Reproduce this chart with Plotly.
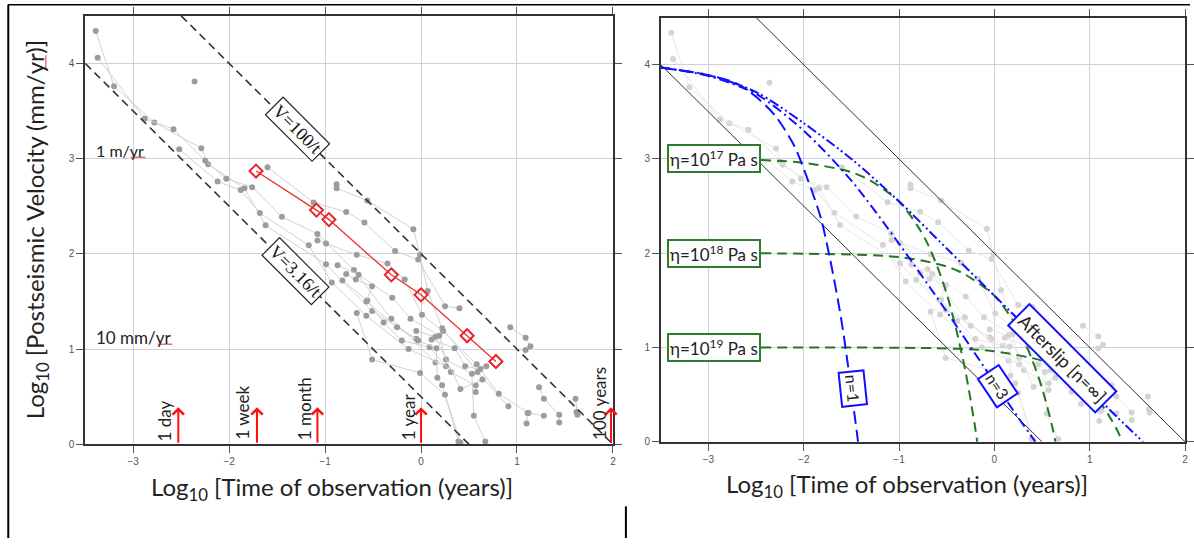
import plotly.graph_objects as go

# ---------------- data (log10 time [yr], log10 velocity [mm/yr]) ----------------
s01_t = [-3.39, -3.20, -2.78, -2.29, -2.22, -1.84, -1.62, -0.99, -0.51, -0.05]
s01_v = [4.34, 3.76, 3.38, 3.11, 2.94, 2.69, 2.30, 1.89, 1.40, 1.11]
s02_t = [-3.37, -2.88, -2.58, -2.25, -2.03, -1.76, -1.45, -1.08, -0.70, -0.31, 0.15]
s02_v = [4.06, 3.42, 3.31, 2.98, 2.79, 2.70, 2.39, 2.21, 1.83, 1.32, 0.86]
s03_t = [-2.52, -2.12, -1.88, -1.68, -1.17, -0.93, -0.57, -0.13, 0.26]
s03_v = [3.10, 2.76, 2.67, 2.43, 2.09, 1.70, 1.35, 1.00, 0.82]
s04_t = [-2.36]
s04_v = [3.81]
s05_t = [-1.60, -1.12, -0.78, -0.59, -0.27, -0.03, 0.25, 0.40]
s05_v = [2.91, 2.54, 2.44, 2.33, 2.03, 1.94, 1.45, 1.43]
s06_t = [-0.88, -0.88, -0.56, -0.08, -0.01, 0.07, 0.22, 0.59, 0.91]
s06_v = [2.73, 2.69, 2.56, 2.26, 1.99, 1.61, 1.22, 0.76, 0.40]
s07_t = [-1.08, -0.99, -0.67, -0.35, -0.17, 0.01, 0.23, 0.58, 0.81, 1.12]
s07_v = [2.14, 2.11, 1.99, 1.90, 1.73, 1.36, 1.19, 0.84, 0.53, 0.33]
s08_t = [-0.87, -0.65, -0.30, -0.11, 0.19, 0.26, 0.53, 0.55, 0.67]
s08_v = [1.88, 1.78, 1.54, 1.32, 1.14, 0.89, 0.74, 0.30, 0.03]
s09_t = [-0.82, -0.56, -0.39, -0.20, 0.09, 0.31, 0.57, 0.57]
s09_v = [1.72, 1.51, 1.28, 1.09, 1.02, 0.76, 0.62, 0.55]
s10_t = [-0.78, -0.68, -0.51, -0.57, -0.25, -0.03, 0.16, 0.17, 0.22, 0.39]
s10_v = [1.79, 1.73, 1.66, 1.50, 1.23, 1.09, 1.01, 0.70, 0.62, 0.03]
s11_t = [-0.67, -0.51, -0.01, 0.25, 0.41]
s11_v = [1.38, 0.89, 0.75, 0.52, 0.02]
s12_t = [0.11, 0.35, 0.46, 0.62, 0.68]
s12_v = [1.10, 1.01, 0.82, 0.79, 0.82]
s13_t = [0.93, 1.09, 1.14, 1.09]
s13_v = [1.23, 1.12, 1.03, 0.99]
s14_t = [1.23, 1.28, 1.44, 1.44]
s14_v = [0.60, 0.48, 0.31, 0.23]
s15_t = [1.10, 1.11, 1.28]
s15_v = [0.22, 0.33, 0.30]
s16_t = [1.61, 1.62, 1.63]
s16_v = [0.48, 0.34, 0.31]
s17_t = [-0.05, 0.15, 0.41, 0.64]
s17_v = [1.19, 1.13, 0.58, 0.68]

red_t = [-1.72, -1.09, -0.96, -0.31, 0.00, 0.48, 0.78]
red_v = [2.87, 2.46, 2.36, 1.78, 1.57, 1.14, 0.87]

# reference lines V = 100/t and V = 3.16/t
v100_t = [-2.5, 2.0]
v100_v = [4.5, 0.0]
v316_t = [-3.5, 0.5]
v316_v = [4.0, 0.0]

# time markers
mark_t = [-2.53, -1.71, -1.08, 0.0, 1.98]
mark_labels = ["1 day", "1 week", "1 month", "1 year", "100 years"]
mark_top = 0.39

# model curves (right panel)
n1_t = [-3.5, -3.0, -2.7, -2.5, -2.3, -2.1, -1.95, -1.82, -1.72, -1.61, -1.54, -1.43]
n1_v = [3.97, 3.89, 3.80, 3.66, 3.46, 3.14, 2.76, 2.37, 1.92, 1.32, 0.84, 0.0]
n3_t = [-3.5, -3.0, -2.5, -2.0, -1.5, -1.0, -0.5, 0.0, 0.2, 0.43]
n3_v = [3.97, 3.88, 3.69, 3.30, 2.77, 2.10, 1.38, 0.63, 0.33, 0.0]
as_t = [-3.5, -3.0, -2.5, -2.0, -1.5, -1.0, -0.5, 0.0, 0.5, 1.0, 1.3, 1.56]
as_v = [3.97, 3.89, 3.71, 3.38, 3.00, 2.55, 2.05, 1.55, 1.05, 0.55, 0.25, 0.0]
g17_t = [-2.45, -2.0, -1.5, -1.3, -1.0, -0.8, -0.7, -0.6, -0.5, -0.4, -0.3, -0.2, -0.18]
g17_v = [2.99, 2.96, 2.86, 2.77, 2.55, 2.28, 2.10, 1.86, 1.57, 1.19, 0.73, 0.14, 0.0]
g18_t = [-2.45, -1.0, -0.5, -0.3, 0.0, 0.2, 0.3, 0.4, 0.5, 0.6, 0.64]
g18_v = [2.0, 1.96, 1.86, 1.77, 1.55, 1.28, 1.10, 0.86, 0.57, 0.19, 0.0]
g19_t = [-2.45, -0.5, 0.0, 0.5, 0.7, 0.8, 0.9, 1.0, 1.1, 1.2, 1.3, 1.34]
g19_v = [1.0, 0.99, 0.96, 0.86, 0.77, 0.71, 0.64, 0.55, 0.43, 0.28, 0.10, 0.0]
visc_levels = [3, 2, 1]
visc_exps = ["17", "18", "19"]

grey_series = [(s01_t, s01_v), (s02_t, s02_v), (s03_t, s03_v), (s04_t, s04_v),
               (s05_t, s05_v), (s06_t, s06_v), (s07_t, s07_v), (s08_t, s08_v),
               (s09_t, s09_v), (s10_t, s10_v), (s11_t, s11_v), (s12_t, s12_v),
               (s13_t, s13_v), (s14_t, s14_v), (s15_t, s15_v), (s16_t, s16_v),
               (s17_t, s17_v)]

TXT = "Lato"
fig = go.Figure()

# ---------------- left panel ----------------
for t, v in grey_series:
    fig.add_trace(go.Scatter(x=t, y=v, mode="lines+markers", xaxis="x", yaxis="y",
                             line=dict(color="#d2d2d2", width=1),
                             marker=dict(color="#9c9c9c", size=6), hoverinfo="skip"))
for t, v in [(v100_t, v100_v), (v316_t, v316_v)]:
    fig.add_trace(go.Scatter(x=t, y=v, mode="lines", xaxis="x", yaxis="y",
                             line=dict(color="#333333", width=1.6, dash="8px,5px")))
fig.add_trace(go.Scatter(x=red_t, y=red_v, mode="lines+markers", xaxis="x", yaxis="y",
                         line=dict(color="#e8342c", width=1.3),
                         marker=dict(symbol="diamond-open", size=10, color="#e8242c",
                                     line=dict(width=2))))

# ---------------- right panel ----------------
for t, v in grey_series:
    fig.add_trace(go.Scatter(x=t, y=v, mode="lines+markers", xaxis="x2", yaxis="y2",
                             line=dict(color="#e8e8e8", width=1),
                             marker=dict(color="#d4d4d4", size=6), hoverinfo="skip"))
for t, v in [(v100_t, v100_v), (v316_t, v316_v)]:
    fig.add_trace(go.Scatter(x=t, y=v, mode="lines", xaxis="x2", yaxis="y2",
                             line=dict(color="#333333", width=1)))
for t, v in [(g17_t, g17_v), (g18_t, g18_v), (g19_t, g19_v)]:
    fig.add_trace(go.Scatter(x=t, y=v, mode="lines", xaxis="x2", yaxis="y2",
                             line=dict(color="#1f7a1f", width=2, dash="10px,6px",
                                       shape="spline", smoothing=0.8)))
fig.add_trace(go.Scatter(x=n1_t, y=n1_v, mode="lines", xaxis="x2", yaxis="y2",
                         line=dict(color="#1010ff", width=2, dash="13px,6px",
                                   shape="spline", smoothing=0.8)))
fig.add_trace(go.Scatter(x=n3_t, y=n3_v, mode="lines", xaxis="x2", yaxis="y2",
                         line=dict(color="#1010ff", width=2, dash="10px,4px,2px,4px",
                                   shape="spline", smoothing=0.8)))
fig.add_trace(go.Scatter(x=as_t, y=as_v, mode="lines", xaxis="x2", yaxis="y2",
                         line=dict(color="#1010ff", width=2, dash="10px,3px,2px,3px,2px,3px",
                                   shape="spline", smoothing=0.8)))

ann = []
# boxed line labels, left
ann.append(dict(x=-1.29, y=3.31, xref="x", yref="y", text="V=100/t", showarrow=False,
                textangle=45, font=dict(family="Liberation Serif", size=18, color="#111"),
                bgcolor="white", bordercolor="#222", borderwidth=1.2, borderpad=2))
ann.append(dict(x=-1.31, y=1.82, xref="x", yref="y", text="V=3.16/t", showarrow=False,
                textangle=45, font=dict(family="Liberation Serif", size=18, color="#111"),
                bgcolor="white", bordercolor="#222", borderwidth=1.2, borderpad=2))
ann.append(dict(x=-3.41, y=3.09, xref="x", yref="y", text="1 m/yr", showarrow=False,
                xanchor="left", yanchor="middle", font=dict(family=TXT, size=16, color="#222")))
ann.append(dict(x=-3.41, y=1.12, xref="x", yref="y", text="10 mm/yr", showarrow=False,
                xanchor="left", yanchor="middle", font=dict(family=TXT, size=17, color="#222")))
# time arrows
label_dx = [-0.14, -0.15, -0.14, -0.13, -0.12]
label_y = [0.25, 0.33, 0.38, 0.29, 0.43]
for t, lab, dx, ly in zip(mark_t, mark_labels, label_dx, label_y):
    ann.append(dict(x=t, y=mark_top, ax=t, ay=0, xref="x", yref="y", axref="x", ayref="y",
                    text="", showarrow=True, arrowhead=4, arrowsize=1.1, arrowwidth=2,
                    arrowcolor="#ff1010", standoff=0, startstandoff=0))
    ann.append(dict(x=t + dx, y=ly, xref="x", yref="y", text=lab, showarrow=False,
                    textangle=-90, xanchor="center", yanchor="middle",
                    font=dict(family=TXT, size=17, color="#222")))
# viscosity labels, right
for lev, ex in zip(visc_levels, visc_exps):
    ann.append(dict(x=-2.945, y=lev, xref="x2", yref="y2",
                    text="η=10<sup>" + ex + "</sup> Pa s", showarrow=False,
                    xanchor="center", yanchor="middle",
                    font=dict(family=TXT, size=17, color="#222"), bgcolor="white",
                    bordercolor="#2e7d2e", borderwidth=2, borderpad=1))
ann.append(dict(x=-1.49, y=0.56, xref="x2", yref="y2", text="n=1", showarrow=False,
                textangle=84, font=dict(family=TXT, size=16, color="#222"), bgcolor="white",
                bordercolor="#1010ff", borderwidth=2, borderpad=2))
ann.append(dict(x=0.04, y=0.59, xref="x2", yref="y2", text="n=3", showarrow=False,
                textangle=56, font=dict(family=TXT, size=16, color="#222"), bgcolor="white",
                bordercolor="#1010ff", borderwidth=2, borderpad=2))
ann.append(dict(x=0.71, y=0.89, xref="x2", yref="y2", text="Afterslip [n=∞]", showarrow=False,
                textangle=45, font=dict(family=TXT, size=18, color="#222"), bgcolor="white",
                bordercolor="#1010ff", borderwidth=2, borderpad=3))
# axis titles
ann.append(dict(x=333 / 1194, y=1 - 494 / 544, xref="paper", yref="paper",
                xanchor="center", yanchor="middle",
                text="Log<sub>10</sub> [Time of observation (years)]", showarrow=False,
                font=dict(family=TXT, size=24, color="#222")))
ann.append(dict(x=910 / 1194, y=1 - 491 / 544, xref="paper", yref="paper",
                xanchor="center", yanchor="middle",
                text="Log<sub>10</sub> [Time of observation (years)]", showarrow=False,
                font=dict(family=TXT, size=24, color="#222")))
ann.append(dict(x=37 / 1194, y=1 - 232 / 544, xref="paper", yref="paper",
                xanchor="center", yanchor="middle",
                text="Log<sub>10</sub> [Postseismic Velocity (mm/yr)]", showarrow=False,
                textangle=-90, font=dict(family=TXT, size=24, color="#222")))

W, H = 1194, 544


def pline(x0, y0, x1, y1, color="black", width=2):
    return dict(type="line", xref="paper", yref="paper", x0=x0 / W, x1=x1 / W,
                y0=1 - y0 / H, y1=1 - y1 / H, line=dict(color=color, width=width))


shapes = [
    pline(8, 4.7, 1194, 4.7, width=1.5),
    pline(8.3, 4.7, 8.3, 544),
    pline(628, 512, 628, 544),
    # spell-check squiggles under "yr"
    pline(131, 159, 146, 159, color="#e03030", width=1),
    pline(158, 348, 173, 348, color="#e03030", width=1),
    pline(46, 56, 46, 70, color="#e03030", width=1),
]

ax_common = dict(showgrid=True, gridcolor="#cdd1df", gridwidth=1, zeroline=False,
                 showline=True, linecolor="#333333", linewidth=1.6, mirror="allticks",
                 ticks="outside", ticklen=7, tickcolor="#555555", tickwidth=1,
                 tickfont=dict(family="Liberation Sans", size=10, color="#555555"))

fig.update_layout(
    width=W, height=H, margin=dict(l=0, r=0, t=0, b=0),
    paper_bgcolor="white", plot_bgcolor="white", showlegend=False,
    xaxis=dict(domain=[85.5 / W, 615 / W], range=[-3.5, 2], tick0=0, dtick=1,
               anchor="y", **ax_common),
    yaxis=dict(domain=[1 - 449.3 / H, 1 - 16 / H], range=[0, 4.5], tick0=0, dtick=1,
               anchor="x", **ax_common),
    xaxis2=dict(domain=[663 / W, 1189 / W], range=[-3.5, 2], tick0=0, dtick=1,
                anchor="y2", **ax_common),
    yaxis2=dict(domain=[1 - 446.7 / H, 1 - 17.8 / H], range=[0, 4.5], tick0=0, dtick=1,
                anchor="x2", **ax_common),
    annotations=ann, shapes=shapes,
)

fig.write_html("out.html",
               config={"displayModeBar": False, "responsive": False},
               post_script="document.body.style.margin='0px';document.body.style.overflow='hidden';")
